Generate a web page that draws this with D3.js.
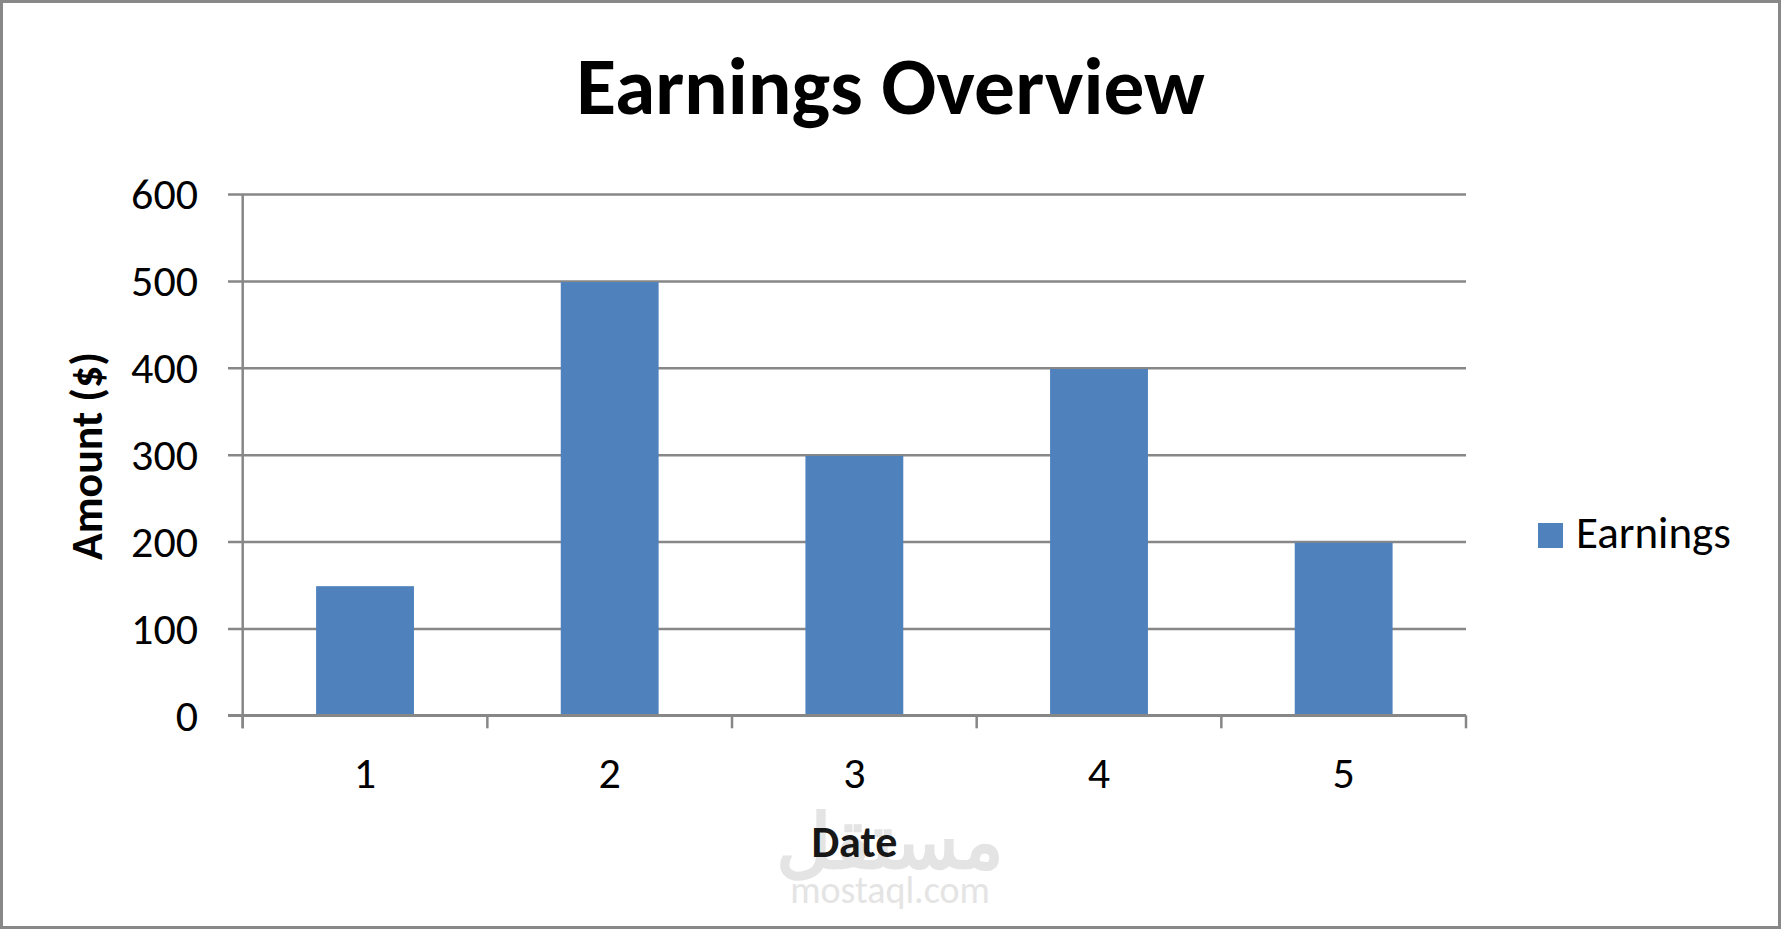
<!DOCTYPE html>
<html>
<head>
<meta charset="utf-8">
<script src="https://cdn.jsdelivr.net/npm/d3@7"></script>
<style>
  html, body { margin: 0; padding: 0; background: #fff; }
  svg { display: block; }
  text { font-family: Carlito, Calibri, Lato, "Open Sans", sans-serif; }
</style>
</head>
<body>
<svg id="chart" width="1781" height="929"></svg>
<script>
const categories = ["1", "2", "3", "4", "5"];
const earnings = [150, 500, 300, 400, 200];
const yTicks = [0, 100, 200, 300, 400, 500, 600];
const titleText = "Earnings Overview";
const xTitle = "Date";
const yTitle = "Amount ($)";
const seriesName = "Earnings";
const watermarkAr = "مستقل";
const watermarkEn = "mostaql.com";

const W = 1781, H = 929;
const plot = { left: 242.7, right: 1466, top: 194, bottom: 715.3 };
const gridColor = "#878787";
const barColor = "#4F81BD";

const svg = d3.select("#chart");

// outer border
svg.append("rect").attr("x", 1.5).attr("y", 1.5).attr("width", W - 3).attr("height", H - 3)
  .attr("fill", "#fff").attr("stroke", "#888").attr("stroke-width", 3);

const x = d3.scaleBand().domain(categories).range([plot.left, plot.right])
  .paddingInner(0.6).paddingOuter(0.3);
const y = d3.scaleLinear().domain([0, 600]).range([plot.bottom, plot.top]);

// gridlines + y ticks
const yAxis = d3.axisLeft(y).tickValues(yTicks).tickSize(-(plot.right - plot.left)).tickSizeOuter(0)
  .tickFormat(d3.format("d")).tickPadding(30);
const gy = svg.append("g").attr("transform", `translate(${plot.left},0)`).call(yAxis);
gy.select(".domain").remove();
gy.selectAll(".tick line").attr("stroke", gridColor).attr("stroke-width", 2.5)
  .attr("x1", -14.7);
gy.selectAll(".tick text").attr("font-size", 44).attr("fill", "#000")
  .attr("dy", "0.34em").attr("x", -44.7);

// bars
svg.append("g").selectAll("rect").data(earnings).join("rect")
  .attr("x", (d, i) => x(categories[i]))
  .attr("width", x.bandwidth())
  .attr("y", d => y(d) + 1.2)
  .attr("height", d => y(0) - y(d) - 1.2)
  .attr("fill", barColor);

// y axis line
svg.append("line").attr("x1", plot.left).attr("x2", plot.left)
  .attr("y1", plot.top).attr("y2", plot.bottom + 13)
  .attr("stroke", gridColor).attr("stroke-width", 2.5);

// x axis
const step = x.step();
const boundaries = d3.range(categories.length + 1).map(i => plot.left + i * step);
svg.append("line").attr("x1", plot.left - 14.7).attr("x2", plot.right)
  .attr("y1", plot.bottom).attr("y2", plot.bottom)
  .attr("stroke", gridColor).attr("stroke-width", 2.5);
svg.append("g").selectAll("line").data(boundaries).join("line")
  .attr("x1", d => d).attr("x2", d => d)
  .attr("y1", plot.bottom).attr("y2", plot.bottom + 13)
  .attr("stroke", gridColor).attr("stroke-width", 2.5);

svg.append("g").selectAll("text").data(categories).join("text")
  .attr("x", d => x(d) + x.bandwidth() / 2)
  .attr("y", 788)
  .attr("text-anchor", "middle")
  .attr("font-size", 44)
  .attr("fill", "#000")
  .text(d => d);

// watermark (site stamp in the reference)
svg.append("text").attr("x", 890).attr("y", 868).attr("text-anchor", "middle")
  .attr("font-family", "'Noto Sans Arabic', 'DejaVu Sans', sans-serif")
  .attr("font-weight", "bold").attr("font-size", 76).attr("fill", "#e4e4e4")
  .text(watermarkAr);
svg.append("text").attr("x", 890).attr("y", 903).attr("text-anchor", "middle")
  .attr("font-family", "'DejaVu Sans', sans-serif")
  .attr("font-size", 38).attr("fill", "#e4e4e4")
  .text(watermarkEn);

// axis titles
svg.append("text").attr("x", (plot.left + plot.right) / 2).attr("y", 857)
  .attr("text-anchor", "middle").attr("font-weight", "bold").attr("font-size", 44)
  .attr("fill", "#000").attr("opacity", 0.9).text(xTitle);

svg.append("text").attr("transform", "translate(102,456) rotate(-90)")
  .attr("text-anchor", "middle").attr("font-weight", "bold").attr("font-size", 44)
  .attr("font-family", "'DejaVu Sans', sans-serif")
  .attr("fill", "#000").text(yTitle);

// title
svg.append("text").attr("x", W / 2).attr("y", 114).attr("text-anchor", "middle")
  .attr("font-weight", "bold").attr("font-size", 81.5).attr("fill", "#000").text(titleText);

// legend
const lg = svg.append("g").attr("transform", "translate(1538,523)");
lg.append("rect").attr("width", 25).attr("height", 25).attr("fill", barColor);
lg.append("text").attr("x", 38).attr("y", 25).attr("font-size", 45).attr("fill", "#000").text(seriesName);
</script>
</body>
</html>
